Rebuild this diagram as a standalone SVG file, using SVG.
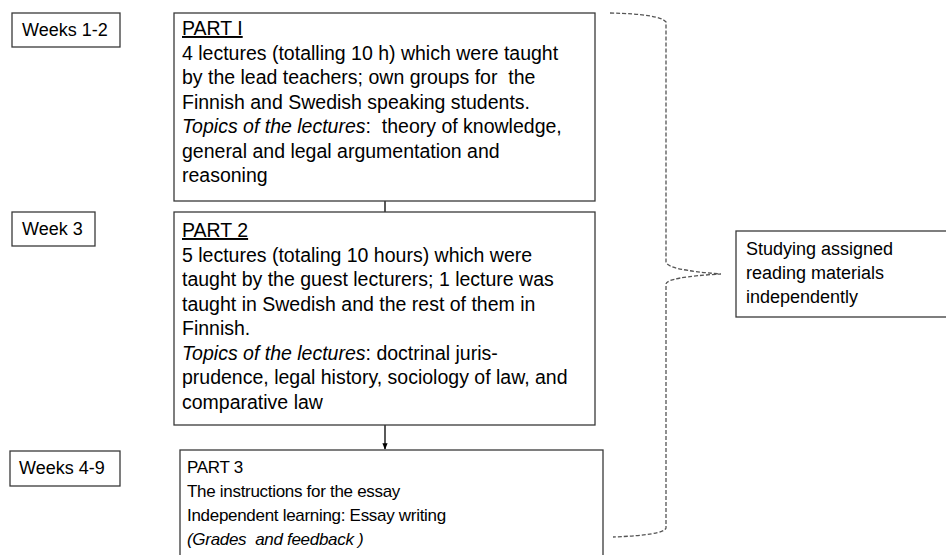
<svg xmlns="http://www.w3.org/2000/svg" width="946" height="555" viewBox="0 0 946 555">
<style>
.box{fill:#fff;stroke:#3a3a3a;stroke-width:1.3}
.t{font-family:"Liberation Sans",Arial,sans-serif;font-size:18px;fill:#000;white-space:pre}
.b{font-size:19.5px}
.s{font-size:17px;letter-spacing:-0.3px}
.i{font-style:italic}
.u{text-decoration:underline}
.con{stroke:#000;stroke-width:1.3;fill:none}
.brace{stroke:#555;stroke-width:1.3;fill:none;stroke-dasharray:4 2}
</style>
<defs>
<marker id="arr" viewBox="0 0 10 10" refX="9" refY="5" markerWidth="5" markerHeight="5" orient="auto">
<path d="M0,1 L10,5 L0,9 z" fill="#000"/>
</marker>
</defs>
<rect width="946" height="555" fill="#fff"/>
<g id="connectors">
<line class="con" x1="385" y1="201" x2="385" y2="212"/>
<line class="con" x1="385" y1="425" x2="385" y2="449" marker-end="url(#arr)"/>
<path class="brace" d="M610,13 Q660,14 666,22 L666,262 Q667,270 721,274 Q667,277 666,284 L666,528 Q664,535 613,537"/>
</g>
<g id="weeks12">
<rect class="box" x="12" y="13" width="108" height="34"/>
<text class="t" x="22" y="36">Weeks 1-2</text>
</g>
<g id="part1">
<rect class="box" x="174" y="13" width="421" height="188"/>
<text class="t b" x="182" y="35"><tspan class="u">PART I</tspan></text>
<text class="t b" x="182" y="59.5">4 lectures (totalling 10 h) which were taught</text>
<text class="t b" x="182" y="84">by the lead teachers; own groups for  the</text>
<text class="t b" x="182" y="108.5">Finnish and Swedish speaking students.</text>
<text class="t b" x="182" y="133"><tspan class="i">Topics of the lectures</tspan>:  theory of knowledge,</text>
<text class="t b" x="182" y="157.5">general and legal argumentation and</text>
<text class="t b" x="182" y="182">reasoning</text>
</g>
<g id="week3">
<rect class="box" x="12" y="212" width="83" height="34"/>
<text class="t" x="22" y="235">Week 3</text>
</g>
<g id="part2">
<rect class="box" x="174" y="212" width="421" height="213"/>
<text class="t b" x="182" y="237"><tspan class="u">PART 2</tspan></text>
<text class="t b" x="182" y="261.5">5 lectures (totaling 10 hours) which were</text>
<text class="t b" x="182" y="286">taught by the guest lecturers; 1 lecture was</text>
<text class="t b" x="182" y="310.5">taught in Swedish and the rest of them in</text>
<text class="t b" x="182" y="335">Finnish.</text>
<text class="t b" x="182" y="359.5"><tspan class="i">Topics of the lectures</tspan>: doctrinal juris-</text>
<text class="t b" x="182" y="384">prudence, legal history, sociology of law, and</text>
<text class="t b" x="182" y="408.5">comparative law</text>
</g>
<g id="weeks49">
<rect class="box" x="10" y="451" width="110" height="35"/>
<text class="t" x="19" y="474">Weeks 4-9</text>
</g>
<g id="part3">
<rect class="box" x="180" y="450" width="423" height="120"/>
<text class="t s" x="187" y="473">PART 3</text>
<text class="t s" x="187" y="497">The instructions for the essay</text>
<text class="t s" x="187" y="521">Independent learning: Essay writing</text>
<text class="t s i" x="187" y="545">(Grades  and feedback )</text>
</g>
<g id="studying">
<rect class="box" x="736" y="231" width="220" height="86"/>
<text class="t" x="746" y="255">Studying assigned</text>
<text class="t" x="746" y="279">reading materials</text>
<text class="t" x="746" y="303">independently</text>
</g>
</svg>
